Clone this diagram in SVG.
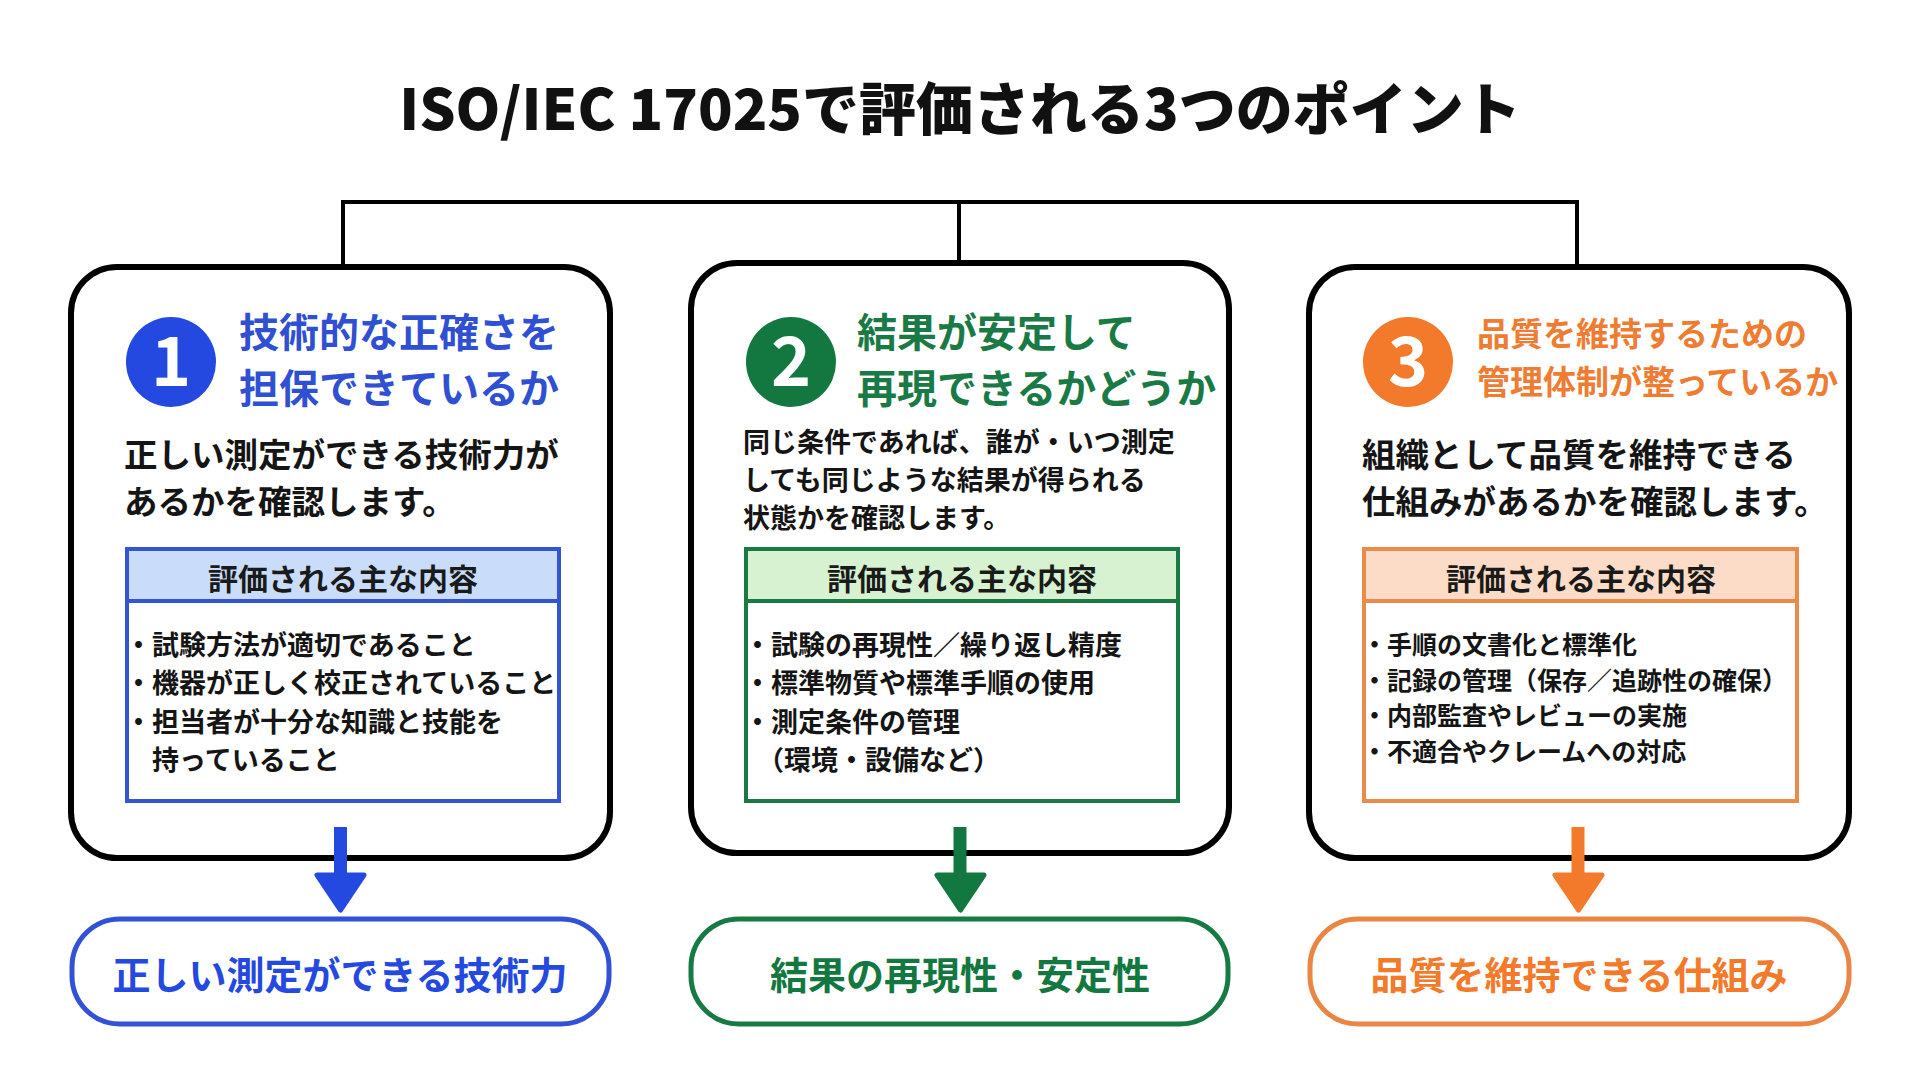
<svg xmlns="http://www.w3.org/2000/svg" width="1920" height="1080" viewBox="0 0 1920 1080">
<defs>
<style>
text{font-family:"Noto Sans CJK JP","Noto Sans",sans-serif;font-weight:700}
.card{fill:#fff;stroke:#000;stroke-width:6}
.title{font-size:57px;fill:#111;font-weight:900}
.num{font-size:68px;fill:#fff;text-anchor:middle}
.desc{fill:#151515}
.hdr{font-size:30px;fill:#1a1a1a;text-anchor:middle}
.li{fill:#151515}
.pill{fill:#fff;stroke-width:5}
.ptxt{font-size:38px;text-anchor:middle}
.b1{fill:#2449E0}.s1{stroke:#3152D6}
.b2{fill:#127840}.s2{stroke:#167A43}
.b3{fill:#F37A2A}.s3{stroke:#EB8544}
</style>
</defs>
<rect width="1920" height="1080" fill="#fff"/>
<text class="title" x="960" y="130" text-anchor="middle">ISO/IEC 17025で評価される3つのポイント</text>

<g id="node1">
<rect class="card" x="71" y="267" width="539" height="591" rx="46"/>
<circle cx="171" cy="362" r="45" fill="#2449E0"/>
<text class="num" x="171" y="386">1</text>
<text x="239" y="347" font-size="40" fill="#2F50D2">技術的な正確さを</text>
<text x="239" y="403" font-size="40" fill="#2F50D2">担保できているか</text>
<text class="desc" x="124" y="467" font-size="33.5">正しい測定ができる技術力が</text>
<text class="desc" x="124" y="514" font-size="33.5">あるかを確認します。</text>
<rect x="127" y="549" width="432" height="252" fill="#fff" stroke="#3554CF" stroke-width="4"/>
<rect x="127" y="549" width="432" height="52" fill="#C9DDFA" stroke="#3554CF" stroke-width="4"/>
<text class="hdr" x="343" y="590">評価される主な内容</text>
<g class="li" font-size="27">
<text x="125" y="655">・試験方法が適切であること</text>
<text x="125" y="693">・機器が正しく校正されていること</text>
<text x="125" y="732">・担当者が十分な知識と技能を</text>
<text x="152" y="770">持っていること</text>
</g>
</g>

<g id="node2">
<rect class="card" x="691" y="263" width="538" height="590" rx="46"/>
<circle cx="791" cy="362" r="45" fill="#127840"/>
<text class="num" x="791" y="386">2</text>
<text x="857" y="347" font-size="40" fill="#1A7A45">結果が安定して</text>
<text x="857" y="403" font-size="40" fill="#1A7A45">再現できるかどうか</text>
<text class="desc" x="743" y="452" font-size="27">同じ条件であれば、誰が・いつ測定</text>
<text class="desc" x="743" y="490" font-size="27">しても同じような結果が得られる</text>
<text class="desc" x="743" y="528" font-size="27">状態かを確認します。</text>
<rect x="746" y="549" width="432" height="252" fill="#fff" stroke="#1B7A44" stroke-width="4"/>
<rect x="746" y="549" width="432" height="52" fill="#D7F2D1" stroke="#1B7A44" stroke-width="4"/>
<text class="hdr" x="962" y="590">評価される主な内容</text>
<g class="li" font-size="27">
<text x="744" y="655">・試験の再現性／繰り返し精度</text>
<text x="744" y="693">・標準物質や標準手順の使用</text>
<text x="744" y="732">・測定条件の管理</text>
<text x="757" y="770">（環境・設備など）</text>
</g>
</g>

<g id="node3">
<rect class="card" x="1309" y="267" width="540" height="591" rx="46"/>
<circle cx="1408" cy="362" r="45" fill="#F37A2A"/>
<text class="num" x="1408" y="386">3</text>
<text x="1477" y="346" font-size="33" fill="#EE7D33">品質を維持するための</text>
<text x="1477" y="394" font-size="33" fill="#EE7D33">管理体制が整っているか</text>
<text class="desc" x="1362" y="467" font-size="33.5">組織として品質を維持できる</text>
<text class="desc" x="1362" y="514" font-size="33.5">仕組みがあるかを確認します。</text>
<rect x="1364" y="549" width="433" height="252" fill="#fff" stroke="#E98B4A" stroke-width="4"/>
<rect x="1364" y="549" width="433" height="52" fill="#FCDCC7" stroke="#E98B4A" stroke-width="4"/>
<text class="hdr" x="1581" y="590">評価される主な内容</text>
<g class="li" font-size="25">
<text x="1362" y="654">・手順の文書化と標準化</text>
<text x="1362" y="690">・記録の管理（保存／追跡性の確保）</text>
<text x="1362" y="725">・内部監査やレビューの実施</text>
<text x="1362" y="761">・不適合やクレームへの対応</text>
</g>
</g>

<g id="result1">
<rect class="pill s1" x="72" y="919" width="537" height="105" rx="48"/>
<text class="ptxt b1" x="340" y="989">正しい測定ができる技術力</text>
</g>
<g id="result2">
<rect class="pill s2" x="691" y="919" width="537" height="105" rx="48"/>
<text class="ptxt b2" x="960" y="989">結果の再現性・安定性</text>
</g>
<g id="result3">
<rect class="pill s3" x="1310" y="919" width="539" height="105" rx="48"/>
<text class="ptxt b3" x="1579" y="989">品質を維持できる仕組み</text>
</g>

<g id="connectors">
<path d="M343 267 V202 H1577 V267 M959 202 V263" fill="none" stroke="#000" stroke-width="4"/>
<g stroke-linejoin="round" stroke-width="5">
<rect x="334" y="827" width="13" height="50" fill="#2449E0"/>
<path d="M317 875 H364 L340.5 910 Z" fill="#2449E0" stroke="#2449E0"/>
<rect x="953.5" y="827" width="13" height="50" fill="#127840"/>
<path d="M937 875 H984 L960.5 910 Z" fill="#127840" stroke="#127840"/>
<rect x="1571.5" y="827" width="13" height="50" fill="#F37A2A"/>
<path d="M1555 875 H1602 L1578.5 910 Z" fill="#F37A2A" stroke="#F37A2A"/>
</g>
</g>
</svg>
